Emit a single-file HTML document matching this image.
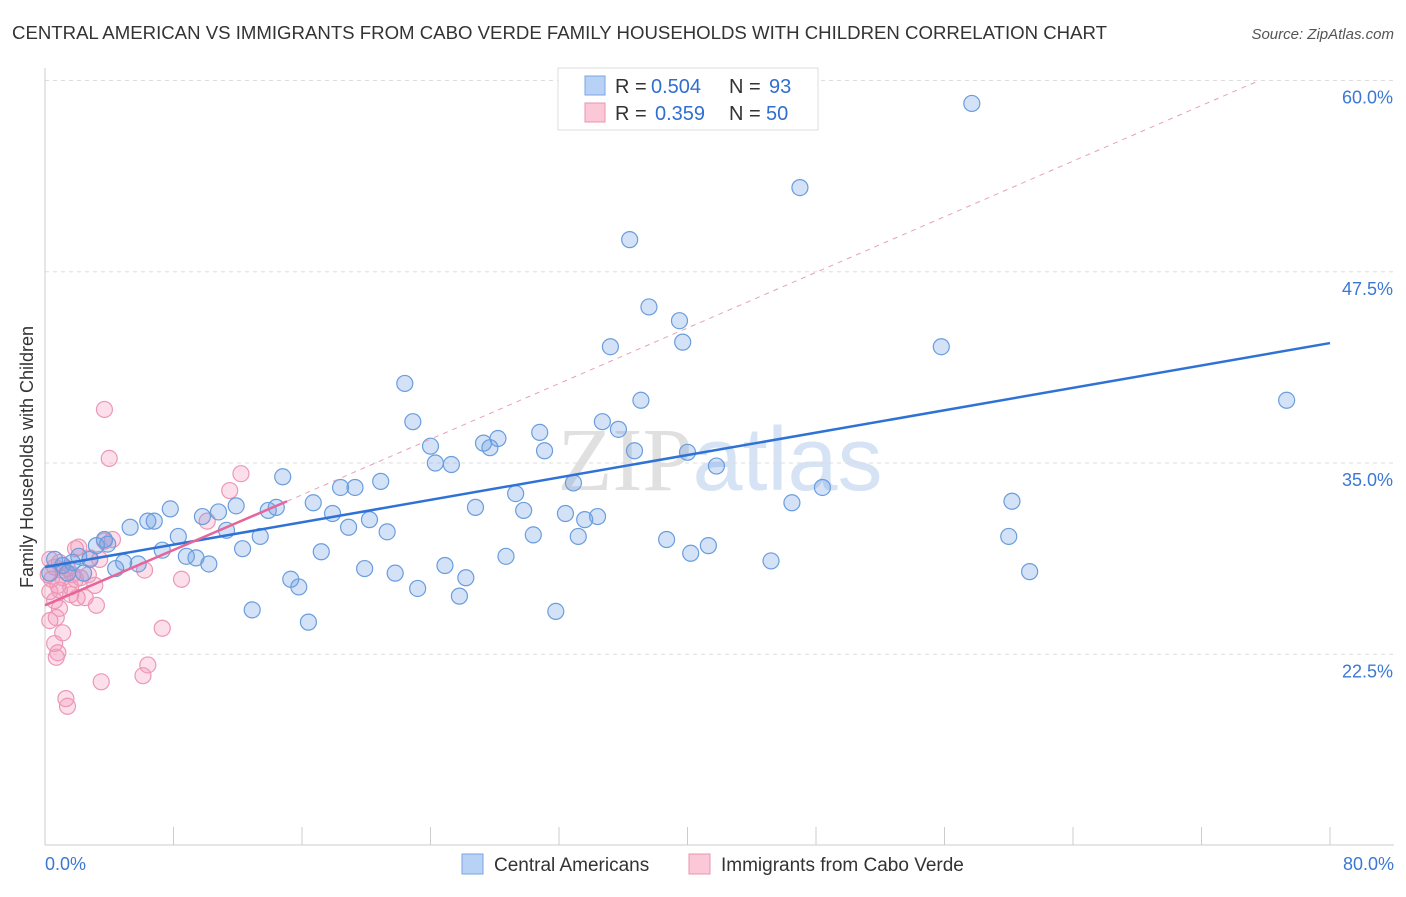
<!DOCTYPE html>
<html><head><meta charset="utf-8"><style>
body{margin:0;background:#fff;font-family:"Liberation Sans",sans-serif;}
svg text{font-family:"Liberation Sans",sans-serif;}
</style></head><body>
<svg id="chart" width="1406" height="892" xmlns="http://www.w3.org/2000/svg">
<text x="12" y="39" font-size="18" fill="#333" textLength="1095" lengthAdjust="spacingAndGlyphs">CENTRAL AMERICAN VS IMMIGRANTS FROM CABO VERDE FAMILY HOUSEHOLDS WITH CHILDREN CORRELATION CHART</text>
<text x="1394" y="39" font-size="15" fill="#555" text-anchor="end" font-style="italic">Source: ZipAtlas.com</text>
<text x="720" y="490" font-size="90" fill="#e8e8ee" text-anchor="middle"><tspan font-family="Liberation Serif" fill="#e0e0e0">ZIP</tspan><tspan fill="#d5e3f5">atlas</tspan></text>
<g id="grid"></g><g id="axes"></g><g id="marks"></g>
<text transform="translate(33,457) rotate(-90)" font-size="18" fill="#333" text-anchor="middle">Family Households with Children</text>
<g>
<rect x="558" y="68" width="260" height="62" fill="#fff" stroke="#ddd"/>
<rect x="585" y="76" width="20" height="19" fill="#b8d2f5" stroke="#7aa6e3"/>
<rect x="585" y="103" width="20" height="19" fill="#fbc8d7" stroke="#ec93b2"/>
<text x="615" y="93" font-size="20" fill="#333">R =</text>
<text x="651" y="93" font-size="20" fill="#2f6fcf">0.504</text>
<text x="729" y="93" font-size="20" fill="#333">N =</text>
<text x="769" y="93" font-size="20" fill="#2f6fcf">93</text>
<text x="615" y="120" font-size="20" fill="#333">R =</text>
<text x="655" y="120" font-size="20" fill="#2f6fcf">0.359</text>
<text x="729" y="120" font-size="20" fill="#333">N =</text>
<text x="766" y="120" font-size="20" fill="#2f6fcf">50</text>
</g>
<g>
<rect x="462" y="854" width="21" height="20" fill="#b8d2f5" stroke="#7aa6e3"/>
<text x="494" y="871" font-size="19" fill="#333">Central Americans</text>
<rect x="689" y="854" width="21" height="20" fill="#fbc8d7" stroke="#ec93b2"/>
<text x="721" y="871" font-size="19" fill="#333">Immigrants from Cabo Verde</text>
</g>
</svg>
<script>
const blueX=[57.7,47.0,36.4,37.6,39.5,35.2,39.7,55.8,77.3,22.4,37.1,22.9,34.7,35.7,30.8,24.0,27.3,28.2,27.7,31.1,36.7,40.0,24.3,25.3,41.8,14.8,18.4,19.3,20.9,32.9,29.3,48.4,60.2,16.7,26.8,29.8,32.4,34.4,33.6,46.5,7.8,11.9,13.9,14.4,17.9,20.2,10.8,9.8,6.4,6.8,5.3,11.3,18.9,21.3,30.4,33.2,60.0,8.3,13.4,38.7,41.3,3.7,3.9,3.2,12.3,7.3,17.2,40.2,28.7,8.8,9.4,10.2,45.2,2.1,2.8,0.6,1.7,1.1,4.9,5.8,4.4,19.9,24.9,2.4,1.4,0.3,21.8,15.3,26.2,61.3,15.8,23.2,25.8,12.9,31.8,16.4];
const blueY=[58.5,53.0,49.6,45.2,44.3,42.6,42.9,42.6,39.1,40.2,39.1,37.7,37.7,37.2,37.0,36.1,36.3,36.6,36.0,35.8,35.8,35.7,35.0,34.9,34.8,34.1,33.4,33.4,33.8,33.7,33.0,33.4,32.5,32.4,32.1,31.9,31.7,31.5,31.3,32.4,32.0,32.2,31.9,32.1,31.7,31.3,31.8,31.5,31.2,31.2,30.8,30.6,30.8,30.5,30.3,30.2,30.2,30.2,30.2,30.0,29.6,30.0,29.7,29.6,29.4,29.3,29.2,29.1,28.9,28.9,28.8,28.4,28.6,28.9,28.7,28.7,28.5,28.3,28.5,28.4,28.1,28.1,28.3,27.8,27.8,27.8,27.8,27.4,27.5,27.9,26.9,26.8,26.3,25.4,25.3,24.6];
const pinkX=[3.7,4.0,12.2,11.5,10.1,3.7,4.2,2.1,1.9,2.8,0.9,0.3,0.6,1.2,1.7,2.2,6.2,3.1,0.9,1.6,0.3,2.5,2.0,3.2,0.6,0.9,8.5,0.3,0.7,1.1,0.6,7.3,0.8,0.7,6.4,6.1,3.5,1.3,1.4,0.2,0.4,1.1,1.9,3.4,1.4,2.7,0.8,1.6];
const pinkY=[38.5,35.3,34.3,33.2,31.2,29.9,30.0,29.5,29.4,28.8,28.5,28.7,28.2,28.0,27.7,27.5,28.0,27.0,26.7,26.9,26.6,26.2,26.2,25.7,26.0,25.5,27.4,24.7,24.9,23.9,23.2,24.2,22.6,22.3,21.8,21.1,20.7,19.6,19.1,27.7,27.4,27.5,27.4,28.7,28.1,27.7,27.0,26.4];
const blueTrend=[[0,28.2],[80,42.84]];
const pinkTrend=[[0,25.7],[15.07,32.5]];
const pinkDash=[[15.07,32.5],[75.6,60]];
const yTicks=[22.5,35.0,47.5,60.0];
const xTickVals=[0,8,16,24,32,40,48,56,64,72,80];
const NS="http://www.w3.org/2000/svg";
const X=v=>45+v/80*1285;
const Y=v=>463-(v-35)*15.3;
function mk(t,a,p){const e=document.createElementNS(NS,t);for(const k in a)e.setAttribute(k,a[k]);p.appendChild(e);return e;}
const grid=document.getElementById('grid'),axes=document.getElementById('axes'),marks=document.getElementById('marks');
yTicks.forEach(v=>{
 const l=mk('line',{x1:45,x2:1394,y1:Y(v),y2:Y(v),stroke:'#ddd','stroke-dasharray':'4,4'},grid);
 
 
 const t=mk('text',{x:1393,y:Y(v)+23,'font-size':18,fill:'#3b78d4','text-anchor':'end'},axes);
 t.textContent=v.toFixed(1)+'%';
 
 
});
const ax=mk('line',{x1:45,x2:1394,y1:845,y2:845,stroke:'#ccc'},axes);


const ay=mk('line',{x1:45,x2:45,y1:68,y2:845,stroke:'#ccc'},axes);


xTickVals.forEach(v=>{
 const t=mk('line',{x1:X(v),x2:X(v),y1:827,y2:845,stroke:'#ccc'},axes);
 
 
});
[[0,'0.0%','start',45],[80,'80.0%','end',1394]].forEach(d=>{
 const t=mk('text',{x:d[3],y:870,'font-size':18,fill:'#3b78d4','text-anchor':d[2]},axes);
 t.textContent=d[1];
 
 
});
function pts(xs,ys,fill,stroke,name){xs.forEach((x,i)=>{
 const c=mk('circle',{cx:X(x),cy:Y(ys[i]),r:8,fill:fill,stroke:stroke,'stroke-width':1.2},marks);
 
 
});}
pts(pinkX,pinkY,'rgba(245,150,185,0.3)','#eb98b6','cabo-verde-point');
pts(blueX,blueY,'rgba(110,160,230,0.3)','#6a9ddd','central-american-point');
const pd=mk('line',{x1:X(pinkDash[0][0]),y1:Y(pinkDash[0][1]),x2:X(pinkDash[1][0]),y2:Y(pinkDash[1][1]),stroke:'#e8a0b8','stroke-dasharray':'5,5','stroke-width':1},marks);


const bt=mk('line',{x1:X(blueTrend[0][0]),y1:Y(blueTrend[0][1]),x2:X(blueTrend[1][0]),y2:Y(blueTrend[1][1]),stroke:'#2f72d6','stroke-width':2.5},marks);


const pt=mk('line',{x1:X(pinkTrend[0][0]),y1:Y(pinkTrend[0][1]),x2:X(pinkTrend[1][0]),y2:Y(pinkTrend[1][1]),stroke:'#e5669a','stroke-width':2.5},marks);


</script>
</body></html>
